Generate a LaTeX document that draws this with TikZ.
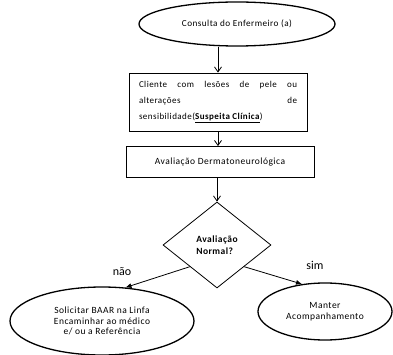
\documentclass[tikz,border=0pt]{standalone}
\usepackage{fontspec}
\setmainfont{Carlito}
\newfontfamily\scanfont[LetterSpace=5]{Carlito}
\usepackage{tikz}
\usetikzlibrary{arrows.meta,positioning,shapes.geometric}

\begin{document}
\begin{tikzpicture}[x=1pt, y=-1pt,
  elp/.style={ellipse, draw, line width=1.3pt, inner sep=0pt, align=center, font=\scanfont\fontsize{9.5}{10.5}\selectfont},
  box/.style={rectangle, draw, thick, inner sep=0pt},
  dec/.style={diamond, draw, thick, inner sep=0pt, align=left, font=\scanfont\fontsize{9.5}{12}\selectfont\bfseries},
  ans/.style={font=\fontsize{12}{14}\selectfont, inner sep=1pt},
  arr/.style={-{Straight Barb[length=5pt, width=7pt]}, thick},
  arrf/.style={-{Latex[length=6pt, width=5pt]}, thick}
]
  \useasboundingbox (0,0) rectangle (393,355);
  % ---------------- nodes ----------------
  \node[elp, minimum width=196pt, minimum height=44pt] (cons) at (237,24)
    {\fontsize{9.2}{11}\selectfont Consulta do Enfermeiro (a)};
  \node[box, minimum width=178pt, minimum height=58pt, text width=158pt,
        align=justify, font=\scanfont\fontsize{9}{16}\selectfont] (clin) at (218,102)
    {Cliente\hfill com\hfill lesões\hfill de\hfill pele\hfill ou\\
     alterações\hfill de\\
     sensibilidade(\underline{\textbf{Suspeita Clínica}})};
  \node[box, minimum width=188pt, minimum height=31pt,
        font=\scanfont\fontsize{9.5}{11}\selectfont] (aval) at (220,162)
    {Avaliação Dermatoneurológica};
  \node[dec, minimum width=108pt, minimum height=86pt] (norm) at (217,245)
    {Avaliação\\Normal?};
  \node[elp, minimum width=184pt, minimum height=68pt] (refer) at (102,321)
    {Solicitar BAAR na Linfa\\Encaminhar ao médico\\e/ ou a Referência};
  \node[elp, minimum width=134pt, minimum height=57pt] (keep) at (325,311.5)
    {Manter\\Acompanhamento};
  % answer labels
  \node[ans] (nao) at (122,272) {não};
  \node[ans] (sim) at (315,265) {sim};
  % ---------------- edges ----------------
  \draw[arr] (clin.north |- cons.south) -- (clin.north);
  \draw[arr] (clin.south) -- (clin.south |- aval.north);
  \draw[arr] (norm.north |- aval.south) -- (norm.north);
  \draw[arrf] (norm.south west) -- (refer.55);
  \draw[arrf] (norm.south east) -- (keep.130);
\end{tikzpicture}
\end{document}
